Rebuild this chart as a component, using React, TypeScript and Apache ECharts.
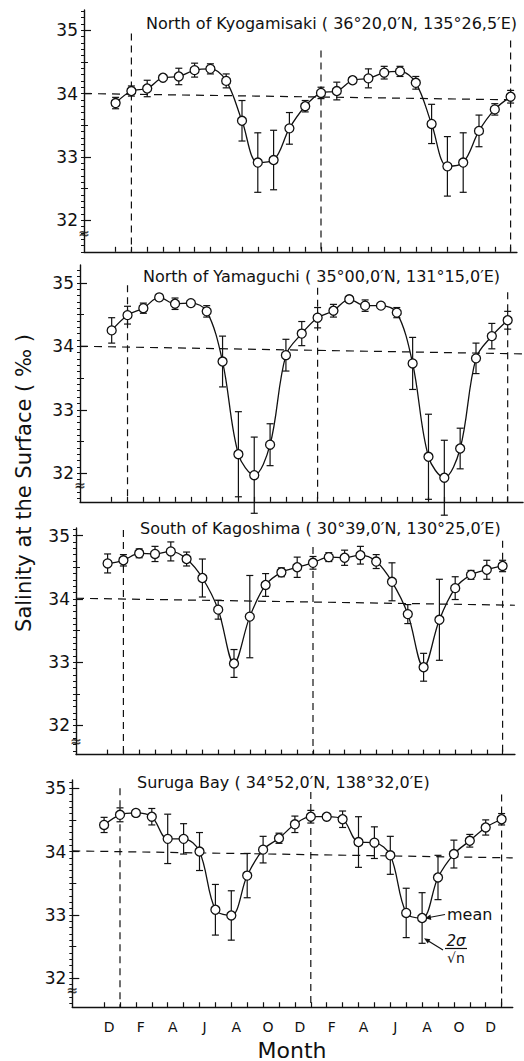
import React, { useEffect, useRef } from 'react';
import * as echarts from 'echarts';

// Month of each plotted point (Dec, Jan..Dec, Jan..Dec, Jan)
const months = ['D','J','F','M','A','M','J','J','A','S','O','N','D','J','F','M','A','M','J','J','A','S','O','N','D','J'];
const monthLabelPositions = [0, 2, 4, 6, 8, 10, 12, 14, 16, 18, 20, 22, 24];
const yTickLabels = [32, 33, 34, 35];
const yHalfTicks = [32.5, 33.5, 34.5];
const yearLineIdx = [1, 13, 25];

// North of Kyogamisaki
const kyoMean = [33.85, 34.04, 34.08, 34.25, 34.27, 34.37, 34.39, 34.2, 33.57, 32.91, 32.95, 33.45, 33.8, 34.01, 34.04, 34.21, 34.24, 34.33, 34.35, 34.17, 33.52, 32.85, 32.91, 33.41, 33.75, 33.95];
const kyoErr = [0.09, 0.08, 0.13, 0.04, 0.13, 0.11, 0.08, 0.11, 0.32, 0.47, 0.47, 0.25, 0.09, 0.09, 0.14, 0.05, 0.15, 0.1, 0.08, 0.1, 0.31, 0.47, 0.47, 0.25, 0.09, 0.1];
const kyoRef = [34.0, 33.9];
const kyoVTop = [34.95, 34.68, 34.84];

// North of Yamaguchi
const yamMean = [34.25, 34.49, 34.6, 34.77, 34.67, 34.68, 34.55, 33.76, 32.3, 31.97, 32.45, 33.86, 34.2, 34.45, 34.56, 34.74, 34.64, 34.64, 34.53, 33.73, 32.26, 31.93, 32.39, 33.81, 34.16, 34.41];
const yamErr = [0.2, 0.14, 0.08, 0.05, 0.09, 0.04, 0.09, 0.4, 0.67, 0.6, 0.33, 0.25, 0.19, 0.16, 0.1, 0.05, 0.09, 0.04, 0.08, 0.41, 0.67, 0.59, 0.32, 0.24, 0.2, 0.14];
const yamRef = [34.0, 33.88];
const yamVTop = [34.96, 34.92, 34.85];

// South of Kagoshima
const kagMean = [34.56, 34.61, 34.72, 34.71, 34.75, 34.63, 34.33, 33.83, 32.98, 33.72, 34.22, 34.42, 34.5, 34.57, 34.66, 34.65, 34.69, 34.59, 34.27, 33.76, 32.92, 33.67, 34.17, 34.38, 34.46, 34.52];
const kagErr = [0.15, 0.09, 0.07, 0.12, 0.15, 0.11, 0.3, 0.15, 0.22, 0.65, 0.18, 0.07, 0.16, 0.1, 0.07, 0.12, 0.14, 0.11, 0.3, 0.15, 0.22, 0.64, 0.18, 0.07, 0.15, 0.09];
const kagRef = [34.01, 33.9];
const kagVTop = [35.09, 34.82, 34.92];

// Suruga Bay
const surMean = [34.42, 34.58, 34.61, 34.55, 34.2, 34.2, 34.0, 33.08, 32.99, 33.62, 34.03, 34.21, 34.43, 34.55, 34.55, 34.51, 34.15, 34.14, 33.94, 33.03, 32.95, 33.59, 33.96, 34.17, 34.38, 34.51];
const surErr = [0.12, 0.11, 0.05, 0.13, 0.39, 0.24, 0.3, 0.4, 0.39, 0.35, 0.21, 0.08, 0.13, 0.1, 0.05, 0.13, 0.4, 0.25, 0.3, 0.39, 0.4, 0.35, 0.22, 0.1, 0.12, 0.09];
const surRef = [34.01, 33.9];
const surVTop = [35.0, 34.94, 34.9];

const titles = [
  'North of Kyogamisaki ( 36°20,0′N, 135°26,5′E)',
  'North of Yamaguchi ( 35°00,0′N, 131°15,0′E)',
  'South of Kagoshima ( 30°39,0′N, 130°25,0′E)',
  'Suruga Bay ( 34°52,0′N, 138°32,0′E)',
];

const FONT = '"DejaVu Sans", sans-serif';
const INK = '#111';

const panels = [
  { mean: kyoMean, err: kyoErr, ref: kyoRef, vTop: kyoVTop, left: 84, top: 10, unitX: 15.8, unitY: 63.3, yMin: 31.5, yMax: 35.32, xMax: 25.4, tx: 146, ty: 23, brk: 31.79 },
  { mean: yamMean, err: yamErr, ref: yamRef, vTop: yamVTop, left: 80, top: 265, unitX: 15.84, unitY: 63.5, yMin: 31.55, yMax: 35.28, xMax: 25.97, tx: 143, ty: 276, brk: 31.82 },
  { mean: kagMean, err: kagErr, ref: kagRef, vTop: kagVTop, left: 76, top: 528, unitX: 15.8, unitY: 63.3, yMin: 31.54, yMax: 35.12, xMax: 25.78, tx: 140, ty: 528, brk: 31.75 },
  { mean: surMean, err: surErr, ref: surRef, vTop: surVTop, left: 72.3, top: 780, unitX: 15.9, unitY: 63.3, yMin: 31.54, yMax: 35.13, xMax: 25.7, tx: 137, ty: 782, brk: 31.82 },
];

const X_MIN = -2;

function buildOption() {
  const grid: any[] = [];
  const xAxis: any[] = [];
  const yAxis: any[] = [];
  const series: any[] = [];
  const xTicks = months.map((_, i) => i);

  panels.forEach((p, i) => {
    grid.push({
      left: p.left,
      top: p.top,
      width: (p.xMax - X_MIN) * p.unitX,
      height: (p.yMax - p.yMin) * p.unitY,
      containLabel: false,
      outerBoundsMode: 'none',
    });
    const minorTicks: number[] = [];
    for (let v = Math.ceil(p.yMin * 10); v <= Math.floor(p.yMax * 10); v++) minorTicks.push(v / 10);

    xAxis.push({
      type: 'value',
      gridIndex: i,
      position: 'bottom',
      min: X_MIN,
      max: p.xMax,
      axisLine: { show: true, onZero: false, lineStyle: { color: INK, width: 1.4 } },
      axisTick: { show: true, inside: true, length: 5, customValues: xTicks, lineStyle: { color: INK, width: 1.2 } },
      axisLabel: {
        show: i === 3,
        customValues: monthLabelPositions,
        formatter: (v: number) => months[Math.round(v)],
        fontFamily: FONT,
        fontSize: 14,
        color: INK,
        margin: 13,
        padding: [0, 0, 0, 10],
      },
      splitLine: { show: false },
    });

    const baseY = {
      type: 'value',
      gridIndex: i,
      position: 'left',
      offset: 0,
      min: p.yMin,
      max: p.yMax,
      splitLine: { show: false },
    };
    yAxis.push({
      ...baseY,
      axisLine: { show: true, onZero: false, lineStyle: { color: INK, width: 1.4 } },
      axisTick: { show: true, inside: true, length: 7, customValues: yTickLabels, lineStyle: { color: INK, width: 1.2 } },
      axisLabel: { show: true, customValues: yTickLabels, fontFamily: FONT, fontSize: 17, color: INK, margin: 6, padding: [0, 0, 6, 0] },
    });
    yAxis.push({
      ...baseY,
      axisLine: { show: false, onZero: false },
      axisTick: { show: true, inside: false, length: 3, customValues: minorTicks, lineStyle: { color: INK, width: 1 } },
      axisLabel: { show: false },
    });
    yAxis.push({
      ...baseY,
      axisLine: { show: false, onZero: false },
      axisTick: { show: true, inside: true, length: 4, customValues: yHalfTicks, lineStyle: { color: INK, width: 1 } },
      axisLabel: { show: false },
    });

    const yi = i * 3;

    // reference dashed horizontal line
    series.push({
      type: 'line',
      xAxisIndex: i,
      yAxisIndex: yi,
      data: [[X_MIN, p.ref[0]], [p.xMax, p.ref[1]]],
      symbol: 'none',
      silent: true,
      lineStyle: { color: INK, width: 1.2, type: [8, 6] },
      z: 1,
    });
    // year boundary dashed vertical lines
    yearLineIdx.forEach((xi, k) => {
      series.push({
        type: 'line',
        xAxisIndex: i,
        yAxisIndex: yi,
        data: [[xi, p.vTop[k]], [xi, p.yMin]],
        symbol: 'none',
        silent: true,
        lineStyle: { color: INK, width: 1.2, type: [7, 5] },
        z: 1,
      });
    });
    // error bars
    series.push({
      type: 'custom',
      xAxisIndex: i,
      yAxisIndex: yi,
      clip: false,
      data: p.mean.map((m, k) => [k, m - p.err[k], m + p.err[k]]),
      encode: { x: 0, y: [1, 2] },
      renderItem: (params: any, api: any) => {
        const x = api.value(0);
        const lo = api.coord([x, api.value(1)]);
        const hi = api.coord([x, api.value(2)]);
        const w = 3.5;
        const st = { stroke: INK, lineWidth: 1.2 };
        return {
          type: 'group',
          children: [
            { type: 'line', shape: { x1: lo[0], y1: lo[1], x2: hi[0], y2: hi[1] }, style: st },
            { type: 'line', shape: { x1: lo[0] - w, y1: lo[1], x2: lo[0] + w, y2: lo[1] }, style: st },
            { type: 'line', shape: { x1: hi[0] - w, y1: hi[1], x2: hi[0] + w, y2: hi[1] }, style: st },
          ],
        };
      },
      z: 2,
    });
    // mean curve
    series.push({
      type: 'line',
      xAxisIndex: i,
      yAxisIndex: yi,
      data: p.mean.map((m, k) => [k, m]),
      smooth: 0.35,
      symbol: 'circle',
      symbolSize: 9,
      showAllSymbol: true,
      itemStyle: { color: '#fff', borderColor: INK, borderWidth: 1.3 },
      lineStyle: { color: INK, width: 1.3 },
      z: 3,
    });
    // axis break mark
    series.push({
      type: 'scatter',
      xAxisIndex: i,
      yAxisIndex: yi,
      data: [[X_MIN, p.brk]],
      symbolSize: 1,
      itemStyle: { color: 'transparent' },
      silent: true,
      label: { show: true, position: 'inside', formatter: '≈', fontSize: 14, fontWeight: 'bold', color: INK, fontFamily: FONT },
      z: 4,
    });
  });

  const graphic: any[] = titles.map((t, i) => ({
    type: 'text',
    x: panels[i].tx,
    y: panels[i].ty,
    style: { text: t, fontFamily: FONT, fontSize: 16, fill: INK, textAlign: 'left', textVerticalAlign: 'middle' },
  }));

  graphic.push(
    {
      type: 'text', x: 24, y: 483, rotation: Math.PI / 2,
      style: { text: 'Salinity at the Surface ( ‰ )', fontFamily: FONT, fontSize: 21, fill: INK, textAlign: 'center', textVerticalAlign: 'middle' },
    },
    {
      type: 'text', x: 292, y: 1050,
      style: { text: 'Month', fontFamily: FONT, fontSize: 22, fill: INK, textAlign: 'center', textVerticalAlign: 'middle' },
    },
    // annotation: mean
    { type: 'text', x: 447, y: 914, style: { text: 'mean', fontFamily: FONT, fontSize: 16, fill: INK, textAlign: 'left', textVerticalAlign: 'middle' } },
    { type: 'line', shape: { x1: 445, y1: 914.5, x2: 429, y2: 917.5 }, style: { stroke: INK, lineWidth: 1.2 } },
    { type: 'polygon', shape: { points: [[425, 918.3], [431.3, 919.9], [430.4, 914.6]] }, style: { fill: INK } },
    // annotation: 2σ/√n
    { type: 'text', x: 456, y: 941, style: { text: '2σ', fontFamily: FONT, fontSize: 15, fontStyle: 'italic', fill: INK, textAlign: 'center', textVerticalAlign: 'middle' } },
    { type: 'line', shape: { x1: 445, y1: 948.5, x2: 467, y2: 948.5 }, style: { stroke: INK, lineWidth: 1.2 } },
    { type: 'text', x: 456, y: 958, style: { text: '√n', fontFamily: FONT, fontSize: 14, fill: INK, textAlign: 'center', textVerticalAlign: 'middle' } },
    { type: 'line', shape: { x1: 443, y1: 950, x2: 428, y2: 940.8 }, style: { stroke: INK, lineWidth: 1.2 } },
    { type: 'polygon', shape: { points: [[424, 938.3], [430.4, 939.3], [427.8, 943.5]] }, style: { fill: INK } },
  );

  return {
    animation: false,
    backgroundColor: '#fff',
    grid,
    xAxis,
    yAxis,
    series,
    graphic,
  };
}

export default function App() {
  const ref = useRef<HTMLDivElement>(null);
  useEffect(() => {
    if (!ref.current) return;
    const chart = echarts.init(ref.current, null, { renderer: 'svg' });
    chart.setOption(buildOption() as any);
    return () => chart.dispose();
  }, []);
  return (
    <div
      ref={ref}
      style={{ position: 'absolute', left: 0, top: 0, width: 524, height: 1061, background: '#fff' }}
    />
  );
}
